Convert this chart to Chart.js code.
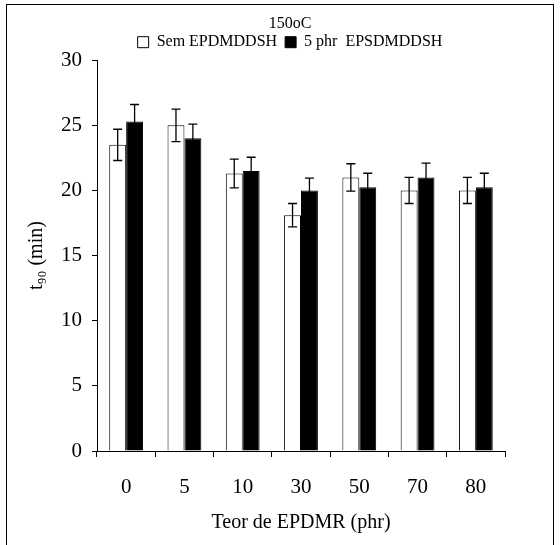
<!DOCTYPE html>
<html>
<head>
<meta charset="utf-8">
<script src="https://cdn.jsdelivr.net/npm/chart.js@4"></script>
<style>
  html, body { margin: 0; padding: 0; background: #fff; overflow: hidden; }
  #wrap { position: relative; width: 560px; height: 545px; }
  #frame { position: absolute; left: 6px; top: 4px; width: 546px; height: 600px; border: 1px solid #000; }
  canvas { position: absolute; left: 0; top: 0; }
</style>
</head>
<body>
<div id="wrap">
  <div id="frame"></div>
  <canvas id="chart" width="560" height="545"></canvas>
</div>
<script>
const categories = ['0', '5', '10', '30', '50', '70', '80'];
const semValues = [23.5, 25.0, 21.3, 18.1, 21.0, 20.0, 20.0];
const semErrors = [1.2, 1.25, 1.1, 0.9, 1.05, 1.0, 1.0];
const phrValues = [25.3, 24.0, 21.5, 20.0, 20.25, 21.0, 20.25];
const phrErrors = [1.3, 1.1, 1.05, 0.95, 1.07, 1.1, 1.07];

const serif = 'Liberation Serif, Times New Roman, serif';

// error bars, drawn from the dataset values through the y scale
const errorBars = {
    id: 'errorBars',
    afterDatasetsDraw(chart) {
        const ctx = chart.ctx;
        const y = chart.scales.y;
        chart.data.datasets.forEach((ds, di) => {
            const meta = chart.getDatasetMeta(di);
            meta.data.forEach((bar, i) => {
                const v = ds.data[i];
                const e = ds.errors[i];
                const yTop = y.getPixelForValue(v + e);
                const yBot = y.getPixelForValue(v - e);
                ctx.save();
                ctx.strokeStyle = '#000';
                ctx.lineWidth = 1.3;
                ctx.beginPath();
                ctx.moveTo(bar.x, yTop);
                ctx.lineTo(bar.x, yBot);
                ctx.moveTo(bar.x - 4.5, yTop);
                ctx.lineTo(bar.x + 4.5, yTop);
                ctx.moveTo(bar.x - 4.5, yBot);
                ctx.lineTo(bar.x + 4.5, yBot);
                ctx.stroke();
                ctx.restore();
            });
        });
    }
};

const ctx = document.getElementById('chart').getContext('2d');
new Chart(ctx, {
    type: 'bar',
    data: {
        labels: categories,
        datasets: [
            {
                label: 'Sem EPDMDDSH',
                data: semValues,
                errors: semErrors,
                backgroundColor: '#ffffff',
                borderColor: '#000000',
                borderWidth: 1,
                barPercentage: 1,
                categoryPercentage: 0.58
            },
            {
                label: '5 phr  EPSDMDDSH',
                data: phrValues,
                errors: phrErrors,
                backgroundColor: '#000000',
                borderColor: '#000000',
                borderWidth: 1,
                barPercentage: 1,
                categoryPercentage: 0.58
            }
        ]
    },
    options: {
        responsive: false,
        animation: false,
        layout: { padding: { left: 20, right: 0, top: 0, bottom: 0 } },
        plugins: {
            title: {
                display: true,
                text: '150oC',
                color: '#000',
                font: { family: serif, size: 16, weight: 'normal' },
                padding: { top: 14, bottom: -7 }
            },
            legend: {
                position: 'top',
                labels: {
                    color: '#000',
                    font: { family: serif, size: 16 },
                    boxWidth: 11,
                    boxHeight: 11,
                    padding: 8
                }
            },
            tooltip: { enabled: false }
        },
        scales: {
            x: {
                grid: { display: true, drawOnChartArea: false, drawTicks: true, tickLength: 6, color: '#000', offset: true },
                border: { display: true, color: '#000', width: 1 },
                ticks: { color: '#000', font: { family: serif, size: 21 }, padding: 18, maxRotation: 0 },
                title: {
                    display: true,
                    text: 'Teor de EPDMR (phr)',
                    color: '#000',
                    font: { family: serif, size: 20 },
                    padding: { top: 10, bottom: 10 }
                },
                afterFit: scale => { scale.height = 94; }
            },
            y: {
                min: 0,
                max: 30,
                grid: { display: true, drawOnChartArea: false, drawTicks: true, tickLength: 5, color: '#000' },
                border: { display: true, color: '#000', width: 1 },
                ticks: { stepSize: 5, color: '#000', font: { family: serif, size: 21 }, padding: 10 },
                title: {
                    display: true,
                    text: 't\u2089\u2080 (min)',
                    color: '#000',
                    font: { family: serif, size: 20 },
                    padding: { top: 5, bottom: 0 }
                },
                afterFit: scale => { scale.width = 77; }
            },
            y2: {
                position: 'right',
                display: true,
                grid: { display: false },
                border: { display: false },
                ticks: { display: false },
                afterFit: scale => { scale.width = 55; }
            }
        }
    },
    plugins: [errorBars]
});
</script>
</body>
</html>
